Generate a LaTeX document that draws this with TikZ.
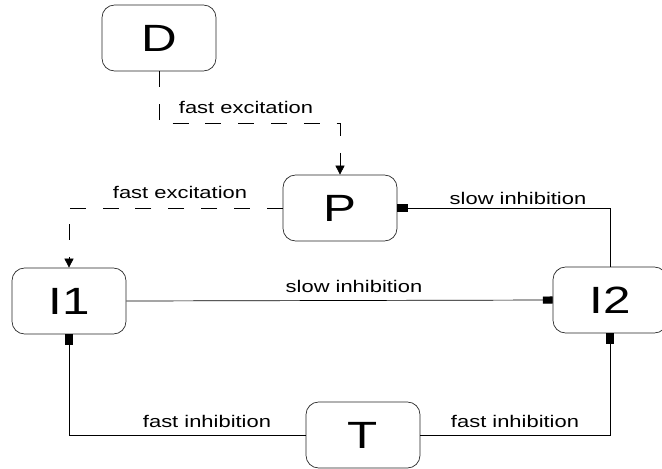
\documentclass[tikz,border=0pt]{standalone}
\usepackage{fontspec}
\setmainfont[FakeStretch=1.3]{Liberation Sans}
\usetikzlibrary{positioning, calc, arrows.meta}

\begin{document}
\begin{tikzpicture}[x=0.025cm, y=-0.025cm, line width=0.5pt,
    cella/.style={draw=black!85, rounded corners=9pt, minimum width=2.85cm, minimum height=1.65cm, inner sep=0pt, font=\fontsize{27}{30}\selectfont},
    eccitazione/.style={dash pattern=on 0.4cm off 0.42cm, -{Triangle[length=6.5pt, width=6.5pt]}},
    inibizione/.style={-{Square[length=7pt, width=5pt]}},
    etichetta/.style={inner sep=0pt, font=\fontsize{12}{14}\selectfont}]
    \useasboundingbox (0,0) rectangle (662,468);
    %celle
    \node[cella] (D) at (159,38) {D};
    \node[cella] (P) at (340,208) {P};
    \node[cella] (I1) at (69,301) {I1};
    \node[cella] (I2) at (610,300) {I2};
    \node[cella] (T) at (363,435) {T};

    %eccitazioni veloci (tratteggio)
    \draw[eccitazione] (D.south) -- ++(0,52) -| (P.north);
    \draw[eccitazione] (P.west) -| (I1.north);
    %inibizioni
    \draw[inibizione] (I2.north) |- (P.east);
    \draw[inibizione] (I1.east) -- (I2.west);
    \draw[inibizione] (T.west) -| (I1.south);
    \draw[inibizione] (T.east) -| (I2.south);

    %etichette
    \node[etichetta] (eDP) at (246,107) {fast excitation};
    \node[etichetta] (ePI1) at (180,192) {fast excitation};
    \node[etichetta] (iI2P) at (518,198) {slow inhibition};
    \node[etichetta] (iI1I2) at (354,286) {slow inhibition};
    \node[etichetta] (iTI1) at (207,421) {fast inhibition};
    \node[etichetta] (iTI2) at (515,421) {fast inhibition};
\end{tikzpicture}
\end{document}
